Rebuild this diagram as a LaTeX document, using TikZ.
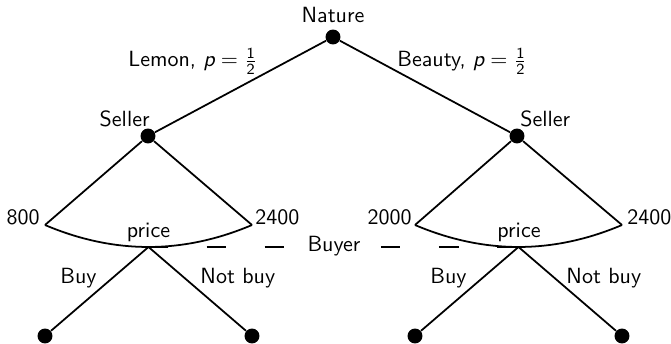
\documentclass[tikz,border=0pt]{standalone}
\renewcommand{\familydefault}{\sfdefault}
\newcommand{\probhalf}{$\textit{p} = \frac{\mathsf{1}}{\mathsf{2}}$}
\begin{document}
\begin{tikzpicture}[x=0.4545pt,y=-0.4545pt, font=\sffamily,
  dot/.style={circle,fill,inner sep=0pt,minimum size=6.8pt},
  edge/.style={line width=0.8pt},
  lbl/.style={inner sep=0pt}]
\useasboundingbox (0,0) rectangle (671,344);
% decision nodes
\node[dot] (N) at (333,37) {};
\node[dot] (SL) at (148,136) {};
\node[dot] (SR) at (517,136) {};
\coordinate (A1) at (45,225);
\coordinate (A2) at (252,225);
\coordinate (B1) at (415,225);
\coordinate (B2) at (622,225);
\coordinate (PL) at (148.5,247);
\coordinate (PR) at (518.5,247);
\node[dot] (L1) at (45,336) {};
\node[dot] (L2) at (252,336) {};
\node[dot] (L3) at (415,336) {};
\node[dot] (L4) at (622,336) {};
% edges
\draw[edge] (N) -- (SL);
\draw[edge] (N) -- (SR);
\draw[edge] (SL) -- (A1);
\draw[edge] (SL) -- (A2);
\draw[edge] (SR) -- (B1);
\draw[edge] (SR) -- (B2);
\draw[edge] (A1) .. controls (114,254.3) and (183,254.3) .. (A2);
\draw[edge] (B1) .. controls (484,254.3) and (553,254.3) .. (B2);
\draw[edge] (PL) -- (L1);
\draw[edge] (PL) -- (L2);
\draw[edge] (PR) -- (L3);
\draw[edge] (PR) -- (L4);
\draw[edge, dash pattern=on 8.9pt off 17.5pt] (PL) -- (PR);
% labels
\node[lbl, anchor=base] (tN) at (333,23) {Nature};
\node[lbl, anchor=base east] (tLe) at (258,67) {Lemon, \probhalf};
\node[lbl, anchor=base west] (tBe) at (397,67) {Beauty, \probhalf};
\node[lbl, anchor=base east] (tSL) at (150,127) {Seller};
\node[lbl, anchor=base west] (tSR) at (520,127) {Seller};
\node[lbl, anchor=base east] (t800) at (40,225) {800};
\node[lbl, anchor=base west] (t2400a) at (255,225) {2400};
\node[lbl, anchor=base east] (t2000) at (412,225) {2000};
\node[lbl, anchor=base west] (t2400b) at (627,225) {2400};
\node[lbl, anchor=base] (tpL) at (148.5,238) {price};
\node[lbl, anchor=base] (tpR) at (519,238) {price};
\node[lbl, anchor=base, fill=white, inner sep=1pt] (tBuyer) at (334,252) {Buyer};
\node[lbl, anchor=base east] (tb1) at (97,284) {Buy};
\node[lbl, anchor=base west] (tn1) at (200,284) {Not buy};
\node[lbl, anchor=base east] (tb2) at (467,284) {Buy};
\node[lbl, anchor=base west] (tn2) at (566,284) {Not buy};
\end{tikzpicture}
\end{document}
